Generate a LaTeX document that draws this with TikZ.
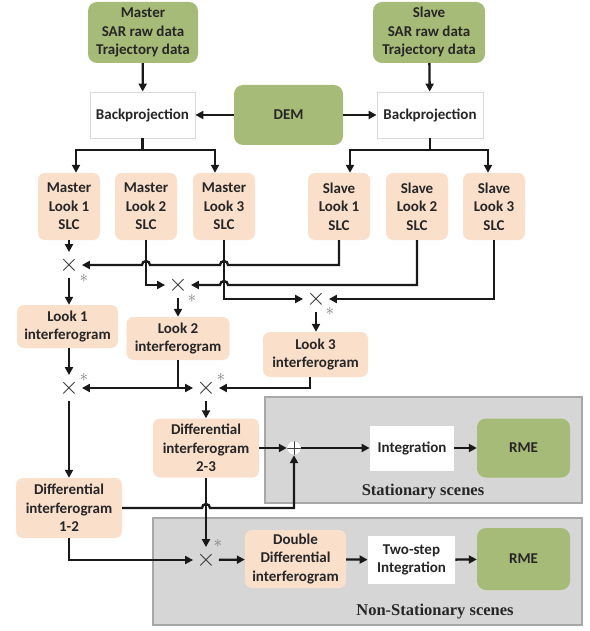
\documentclass[tikz,border=0pt]{standalone}
\usepackage{fontspec}
\setmainfont{Carlito}
\newfontfamily\capfont{Liberation Serif}
\usetikzlibrary{arrows.meta}
\definecolor{boxgreen}{HTML}{A7BB78}
\definecolor{boxpeach}{HTML}{FADFCB}
\definecolor{panelgray}{HTML}{D6D6D6}
\definecolor{panelline}{HTML}{A8A8A8}
\definecolor{txt}{HTML}{262626}
\begin{document}
\begin{tikzpicture}[x=1pt,y=-1pt,
 base/.style={font=\bfseries\fontsize{15}{18.5}\selectfont, text=txt, align=center, inner sep=0pt},
 sz/.style 2 args={minimum width=#1pt, minimum height=#2pt},
 greenbox/.style={base, fill=boxgreen, rounded corners=9pt},
 peachbox/.style={base, fill=boxpeach, rounded corners=7pt},
 whitebox/.style={base, fill=white, draw=black!15, line width=0.8pt},
 panel/.style={fill=panelgray, draw=panelline, line width=1.5pt, inner sep=0pt},
 panellabel/.style={font=\capfont\bfseries\fontsize{16.5}{18}\selectfont, text=black!85, inner sep=0pt},
 mult/.style={circle, inner sep=0pt, minimum size=15pt, font=\fontsize{28}{28}\selectfont, text=black!80},
 star/.style={font=\fontsize{17}{17}\selectfont, text=black!50, inner sep=0pt},
 wire/.style={line width=2.3pt, draw=black!90},
 arr/.style={wire, -{Triangle[length=8pt,width=8pt]}},
]
\fill[white] (0,0) rectangle (589,631);
\useasboundingbox (0,0) rectangle (589,631);

% panels
\node[panel, sz={317}{106}] (stat) at (423.5,450) {};
\node[panellabel] (statlbl) at (423,492) {Stationary scenes};
\node[panel, sz={429}{107}] (nstat) at (367.5,571.5) {};
\node[panellabel] (nstatlbl) at (435,612) {Non-Stationary scenes};

% top row
\node[greenbox, sz={110}{61}] (md) at (143,32.5) {Master\\SAR raw data\\Trajectory data};
\node[greenbox, sz={112}{61}] (sd) at (429,32.5) {Slave\\SAR raw data\\Trajectory data};
\node[whitebox, sz={105}{46}] (bpm) at (142.5,115) {Backprojection};
\node[greenbox, sz={109}{60}] (dem) at (288.5,115) {DEM};
\node[whitebox, sz={106}{46}] (bps) at (430,115) {Backprojection};

% looks
\node[peachbox, sz={62}{67}] (ml1) at (69,206.5) {Master\\Look 1\\SLC};
\node[peachbox, sz={62}{67}] (ml2) at (146,206.5) {Master\\Look 2\\SLC};
\node[peachbox, sz={62}{67}] (ml3) at (224,206.5) {Master\\Look 3\\SLC};
\node[peachbox, sz={62}{67}] (sl1) at (339,206.5) {Slave\\Look 1\\SLC};
\node[peachbox, sz={62}{67}] (sl2) at (417,206.5) {Slave\\Look 2\\SLC};
\node[peachbox, sz={62}{67}] (sl3) at (494,206.5) {Slave\\Look 3\\SLC};

% multipliers
\node[mult] (m1) at (69,265) {$\times$};
\node[mult] (m2) at (178,285) {$\times$};
\node[mult] (m3) at (316,299) {$\times$};
\node[star] (s1) at (84,278) {$\ast$};
\node[star] (s2) at (192,298) {$\ast$};
\node[star] (s3) at (330,311) {$\ast$};

% interferograms
\node[peachbox, sz={101}{43}] (li1) at (67.5,326.5) {Look 1\\interferogram};
\node[peachbox, sz={103}{43}] (li2) at (178,338.5) {Look 2\\interferogram};
\node[peachbox, sz={105}{45}] (li3) at (315.5,354.5) {Look 3\\interferogram};

\node[mult] (m4) at (69,388) {$\times$};
\node[mult] (m5) at (206,388) {$\times$};
\node[star] (s4) at (84,377) {$\ast$};
\node[star] (s5) at (221,377) {$\ast$};

\node[peachbox, sz={106}{59}] (di23) at (206,448) {Differential\\interferogram\\2-3};
\node[peachbox, sz={106}{60}] (di12) at (69,508) {Differential\\interferogram\\1-2};

% stationary
\node[circle, fill=white, draw=black!20, line width=0.4pt, minimum size=14pt, inner sep=0pt,
  path picture={\draw[black!75, line width=0.8pt]
    (path picture bounding box.north) -- (path picture bounding box.south)
    (path picture bounding box.west) -- (path picture bounding box.east);}] (plus) at (294,448) {};
\node[whitebox, draw=none, sz={84}{45}] (int) at (412,448) {Integration};
\node[greenbox, sz={93}{59}] (rme1) at (523.5,448) {RME};

% non-stationary
\node[mult] (m6) at (206,560) {$\times$};
\node[star] (s6) at (218,543) {$\ast$};
\node[peachbox, sz={101}{58}] (ddi) at (295.5,559) {Double\\Differential\\interferogram};
\node[whitebox, draw=none, sz={87}{48}] (two) at (411.5,560) {Two-step\\Integration};
\node[greenbox, sz={93}{62}] (rme2) at (523.5,559) {RME};

% top connections
\draw[arr] (md) -- (bpm);
\draw[arr] (sd) -- (bps);
\draw[arr] (dem) -- (bpm);
\draw[arr] (dem) -- (bps);
\coordinate (bmj) at (142.5,150);
\coordinate (bsj) at (430,150);
\draw[wire] (bpm.south) -- (bmj);
\draw[arr] (bmj) -| ([xshift=7pt]ml1.north);
\draw[arr] (bmj) -| ([xshift=-9pt]ml3.north);
\draw[wire] (bps.south) -- (bsj);
\draw[arr] (bsj) -| ([xshift=11pt]sl1.north);
\draw[arr] (bsj) -| ([xshift=-6pt]sl3.north);

% to multipliers
\draw[arr] (ml1) -- (m1);
\draw[arr] (sl1.south) -- (sl1.south |- m1) -- (228,265) arc[start angle=0,end angle=180,radius=4pt]
  -- (150,265) arc[start angle=0,end angle=180,radius=4pt] -- (m1);
\draw[arr] (ml2.south) |- (m2);
\draw[arr] (sl2.south) -- (sl2.south |- m2) -- (228,285) arc[start angle=0,end angle=180,radius=4pt] -- (m2);
\draw[arr] (ml3.south) |- (m3);
\draw[arr] (sl3.south) |- (m3);

\draw[arr] (m1) -- (m1 |- li1.north);
\draw[arr] (m2) -- (m2 |- li2.north);
\draw[arr] (m3) -- (m3 |- li3.north);

% second stage
\coordinate (j2) at (178,388);
\draw[wire] (li2.south) -- (j2);
\draw[arr] (j2) -- (m4);
\draw[arr] (j2) -- (m5);
\draw[arr] (li1.south -| m4) -- (m4);
\draw[arr] ([xshift=-5.5pt]li3.south) |- (m5);
\draw[arr] (m4) -- (m4 |- di12.north);
\draw[arr] (m5) -- (m5 |- di23.north);

% stationary path
\draw[arr] (di23) -- (plus);
\draw[arr] (plus) -- (int);
\draw[arr] (int) -- (rme1);
\draw[arr] (di12.east) -- (202,508) arc[start angle=180,end angle=0,radius=4pt] -- (294,508) -- (plus.south);

% non-stationary path
\draw[arr] (di23.south) -- (m6);
\draw[arr] (di12.south) |- (m6);
\draw[arr] (m6) -- (ddi);
\draw[arr] (ddi) -- (two);
\draw[arr] (two) -- (rme2);
\end{tikzpicture}
\end{document}
